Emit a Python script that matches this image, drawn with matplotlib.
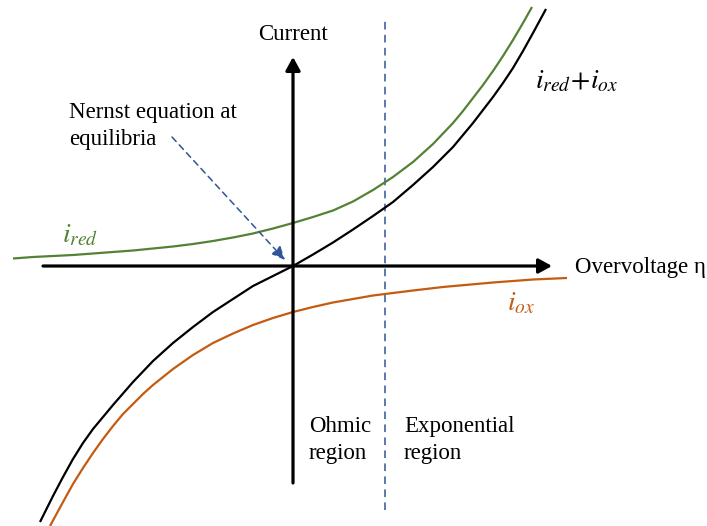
import matplotlib
matplotlib.use("Agg")
import matplotlib.pyplot as plt

plt.rcParams['font.family'] = ['Liberation Serif', 'DejaVu Serif']
plt.rcParams['mathtext.fontset'] = 'stix'

# overvoltage (eta) and current samples for each curve
eta_red = [-2.80, -2.60, -2.40, -2.20, -2.00, -1.80, -1.60, -1.40, -1.20, -1.00,
           -0.80, -0.60, -0.40, -0.20, 0.00, 0.20, 0.40, 0.60, 0.80, 1.00,
           1.20, 1.40, 1.60, 1.70, 1.80, 1.90, 2.00, 2.10, 2.20, 2.30, 2.39]
cur_red = [0.075, 0.09, 0.10, 0.11, 0.125, 0.14, 0.155, 0.175, 0.195, 0.22,
           0.25, 0.285, 0.325, 0.375, 0.43, 0.49, 0.555, 0.645, 0.76, 0.89,
           1.04, 1.22, 1.43, 1.55, 1.68, 1.81, 1.95, 2.10, 2.26, 2.43, 2.59]

eta_ox = [-2.43, -2.30, -2.20, -2.10, -2.00, -1.90, -1.80, -1.70, -1.60, -1.50,
          -1.40, -1.20, -1.00, -0.80, -0.60, -0.40, -0.20, 0.00, 0.20, 0.40,
          0.60, 0.80, 1.00, 1.20, 1.50, 2.00, 2.40, 2.74]
cur_ox = [-2.60, -2.36, -2.18, -2.02, -1.87, -1.73, -1.60, -1.48, -1.38, -1.28,
          -1.19, -1.03, -0.89, -0.77, -0.675, -0.59, -0.52, -0.46, -0.41, -0.365,
          -0.33, -0.295, -0.27, -0.245, -0.21, -0.165, -0.135, -0.12]

eta_sum = [-2.53, -2.40, -2.30, -2.20, -2.10, -2.00, -1.80, -1.60, -1.40, -1.20,
           -1.00, -0.80, -0.60, -0.40, -0.20, 0.00, 0.20, 0.40, 0.60, 0.80,
           1.00, 1.20, 1.40, 1.60, 1.80, 2.00, 2.10, 2.20, 2.30, 2.40, 2.53]
cur_sum = [-2.56, -2.30, -2.11, -1.93, -1.77, -1.63, -1.39, -1.16, -0.95, -0.77,
           -0.61, -0.46, -0.33, -0.20, -0.10, 0.00, 0.115, 0.235, 0.365, 0.50,
           0.64, 0.81, 0.99, 1.19, 1.43, 1.69, 1.83, 1.98, 2.15, 2.33, 2.57]

# boundary between ohmic and exponential behaviour
eta_boundary = 0.92

GREEN = '#548235'
ORANGE = '#C55A11'
BLUE = '#2F5597'
FS = 16.5

fig = plt.figure(figsize=(7.07, 5.26), dpi=100)
ax = fig.add_axes([0, 0, 1, 1])
ax.set_xlim(-2.93, 4.14)
ax.set_ylim(-2.60, 2.66)
ax.axis('off')

# coordinate axes with arrow heads
axis_arrow = dict(arrowstyle='-|>,head_length=0.4,head_width=0.22',
                  lw=2.3, color='black', mutation_scale=20,
                  shrinkA=0, shrinkB=0)
ax.annotate('', xy=(2.59, 0), xytext=(-2.50, 0), arrowprops=axis_arrow)
ax.annotate('', xy=(0, 2.09), xytext=(0, -2.17), arrowprops=axis_arrow)

ax.plot([eta_boundary, eta_boundary], [-2.44, 2.46], color=BLUE, lw=1.1,
        dashes=(5, 3.5))

ax.plot(eta_red, cur_red, color=GREEN, lw=1.6, solid_capstyle='butt')
ax.plot(eta_ox, cur_ox, color=ORANGE, lw=1.6, solid_capstyle='butt')
ax.plot(eta_sum, cur_sum, color='black', lw=1.6, solid_capstyle='butt')

ax.annotate('', xy=(-0.08, 0.06), xytext=(-1.21, 1.29),
            arrowprops=dict(arrowstyle='-|>,head_length=0.4,head_width=0.18',
                            color=BLUE, lw=1.1, linestyle=(0, (4, 3)),
                            mutation_scale=20, shrinkA=0, shrinkB=0))

# multi-line labels are anchored on the baseline of their last line
ax.text(0, 2.26, 'Current', fontsize=FS, ha='center', va='baseline')
ax.text(-2.24, 1.21, 'Nernst equation at\nequilibria', fontsize=FS,
        ha='left', va='baseline', linespacing=1.35)
ax.text(2.82, 0.01, 'Overvoltage η', fontsize=FS, ha='left',
        va='center_baseline')
ax.text(0.16, -1.93, 'Ohmic\nregion', fontsize=FS, ha='left', va='baseline',
        linespacing=1.35)
ax.text(1.11, -1.93, 'Exponential\nregion', fontsize=FS, ha='left',
        va='baseline', linespacing=1.35)

ax.text(-2.31, 0.24, r'$i_{red}$', fontsize=20, color=GREEN, ha='left',
        va='baseline')
ax.text(2.42, 1.78, r'$i_{red}\!+\!i_{ox}$', fontsize=20, color='black',
        ha='left', va='baseline')
ax.text(2.14, -0.44, r'$i_{ox}$', fontsize=20, color=ORANGE, ha='left',
        va='baseline')

fig.savefig('out.png', dpi=100)
